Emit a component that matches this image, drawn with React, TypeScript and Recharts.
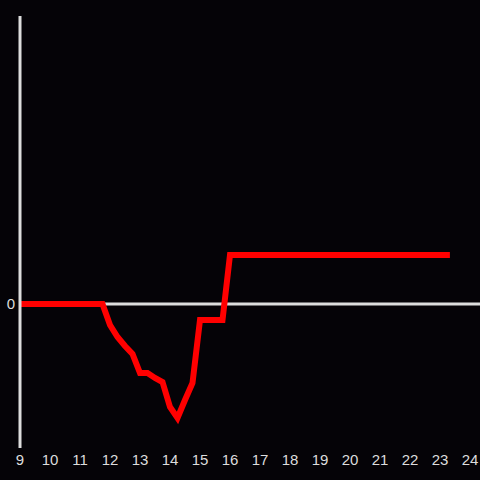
import React from 'react';
import { LineChart, Line, XAxis, YAxis, ReferenceLine } from 'recharts';

const hours = [
  9, 11.75, 12, 12.25, 12.5, 12.75, 13, 13.25, 13.5, 13.75, 14, 14.25, 14.5, 14.75,
  15, 15.25, 15.5, 15.75, 16, 23.33,
];
const values = [
  0, 0, -21, -33, -42, -50, -69, -69, -74, -78, -103, -114, -96, -79,
  -16, -16, -16, -16, 49, 49,
];
const hourTicks = [9, 10, 11, 12, 13, 14, 15, 16, 17, 18, 19, 20, 21, 22, 23, 24];

const data = hours.map((h, i) => ({ h, v: values[i] }));

const BG = '#050307';
const AXIS = '#dddddd';
const FONT = 'Liberation Sans, Arial, sans-serif';

export default function App() {
  return (
    <div style={{ position: 'absolute', top: 0, left: 0, width: 480, height: 480, background: BG }}>
      <LineChart
        width={480}
        height={480}
        data={data}
        margin={{ top: 16, right: 0, bottom: 0, left: 0 }}
      >
        <XAxis
          dataKey="h"
          type="number"
          domain={[9, 24.3333]}
          ticks={hourTicks}
          allowDataOverflow
          axisLine={false}
          tickLine={false}
          tickSize={0}
          tickMargin={6}
          height={32}
          tick={{ fill: AXIS, fontSize: 15, fontFamily: FONT }}
        />
        <YAxis
          type="number"
          domain={[-144, 288]}
          ticks={[0]}
          width={20}
          axisLine={{ stroke: AXIS, strokeWidth: 3 }}
          tickLine={false}
          tickSize={0}
          tickMargin={5}
          tick={{ fill: AXIS, fontSize: 15, fontFamily: FONT }}
        />
        <ReferenceLine y={0} stroke={AXIS} strokeWidth={3} />
        <Line
          type="linear"
          dataKey="v"
          stroke="#ff0000"
          strokeWidth={6}
          dot={false}
          isAnimationActive={false}
        />
      </LineChart>
    </div>
  );
}
